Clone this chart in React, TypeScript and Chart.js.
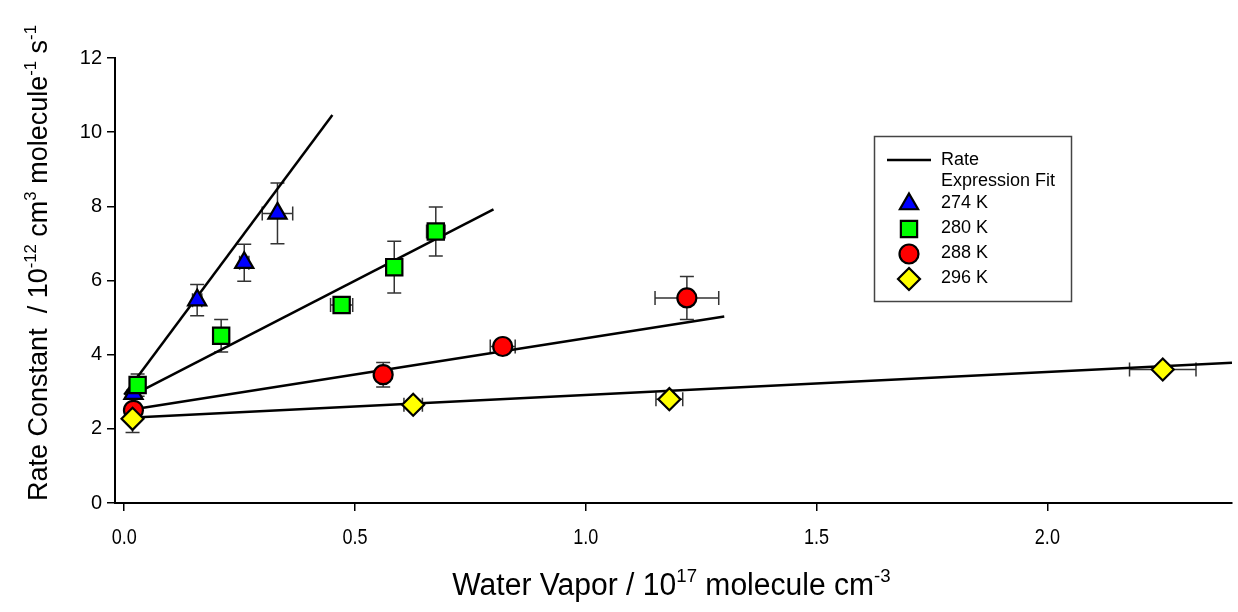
import React, { useEffect, useRef } from "react";
import { Chart, registerables } from "chart.js";

Chart.register(...registerables);

// ---------- axes ----------
const xMin = -0.02;
const xMax = 2.4;
const yMin = 0;
const yMax = 12;
const xTickValues = [0, 0.5, 1.0, 1.5, 2.0];
const xTickLabels = ["0.0", "0.5", "1.0", "1.5", "2.0"];
const yTickValues = [0, 2, 4, 6, 8, 10, 12];

// ---------- series ----------
const seriesNames = ["274 K", "280 K", "288 K", "296 K"];
const fitLegendLines = ["Rate", "Expression Fit"];

const x274 = [0.02, 0.158, 0.26, 0.332];
const y274 = [2.95, 5.47, 6.48, 7.81];
const ex274 = [0.0, 0.01, 0.01, 0.033];
const ey274 = [0.1, 0.42, 0.5, 0.82];

const x280 = [0.029, 0.21, 0.471, 0.585, 0.675];
const y280 = [3.18, 4.51, 5.34, 6.36, 7.32];
const ex280 = [0.0, 0.0, 0.024, 0.0, 0.02];
const ey280 = [0.3, 0.44, 0.12, 0.7, 0.66];

const x288 = [0.02, 0.561, 0.82, 1.219];
const y288 = [2.5, 3.46, 4.22, 5.53];
const ex288 = [0.0, 0.0, 0.027, 0.069];
const ey288 = [0.1, 0.33, 0.1, 0.58];

const x296 = [0.018, 0.626, 1.181, 2.25];
const y296 = [2.27, 2.65, 2.8, 3.6];
const ex296 = [0.0, 0.02, 0.029, 0.072];
const ey296 = [0.37, 0.12, 0.1, 0.05];

// fit lines (endpoints)
const fitX274 = [0.0, 0.451];
const fitY274 = [2.92, 10.46];
const fitX280 = [0.005, 0.8];
const fitY280 = [2.82, 7.92];
const fitX288 = [0.0, 1.3];
const fitY288 = [2.49, 5.03];
const fitX296 = [0.0, 2.4];
const fitY296 = [2.29, 3.78];

const FONT = "'Liberation Sans', Arial, 'DejaVu Sans', sans-serif";

type Seg = { t: string; sup?: boolean };

function segWidths(ctx: CanvasRenderingContext2D, segs: Seg[], size: number) {
  let w = 0;
  for (const s of segs) {
    ctx.font = `${s.sup ? size * 0.62 : size}px ${FONT}`;
    w += ctx.measureText(s.t).width;
  }
  return w;
}

function drawRich(ctx: CanvasRenderingContext2D, segs: Seg[], x: number, y: number, size: number) {
  let cx = x;
  ctx.textBaseline = "alphabetic";
  ctx.textAlign = "left";
  for (const s of segs) {
    const fs = s.sup ? size * 0.62 : size;
    ctx.font = `${fs}px ${FONT}`;
    ctx.fillText(s.t, cx, s.sup ? y - size * 0.42 : y);
    cx += ctx.measureText(s.t).width;
  }
}

const xTitle: Seg[] = [
  { t: "Water Vapor / 10" },
  { t: "17", sup: true },
  { t: " molecule cm" },
  { t: "-3", sup: true },
];
const yTitle: Seg[] = [
  { t: "Rate Constant  / 10" },
  { t: "-12", sup: true },
  { t: " cm" },
  { t: "3", sup: true },
  { t: " molecule" },
  { t: "-1", sup: true },
  { t: " s" },
  { t: "-1", sup: true },
];

const colors = ["#0000ff", "#00ff00", "#ff0000", "#ffff00"];
const styles = ["triangle", "rect", "circle", "rectRot"];
const radii = [10.5, 11.5, 9.5, 11];
const drawOrder = [4, 3, 2, 1];

function drawMarker(ctx: CanvasRenderingContext2D, style: string, x: number, y: number, r: number, fill: string) {
  ctx.save();
  ctx.beginPath();
  if (style === "triangle") {
    ctx.moveTo(x, y - r);
    ctx.lineTo(x + 0.866 * r, y + 0.5 * r);
    ctx.lineTo(x - 0.866 * r, y + 0.5 * r);
    ctx.closePath();
  } else if (style === "rect") {
    const s = r * Math.SQRT1_2;
    ctx.rect(x - s, y - s, 2 * s, 2 * s);
  } else if (style === "circle") {
    ctx.arc(x, y, r, 0, Math.PI * 2);
  } else {
    ctx.moveTo(x, y - r);
    ctx.lineTo(x + r, y);
    ctx.lineTo(x, y + r);
    ctx.lineTo(x - r, y);
    ctx.closePath();
  }
  ctx.fillStyle = fill;
  ctx.fill();
  ctx.lineWidth = 2.2;
  ctx.strokeStyle = "#000";
  ctx.stroke();
  ctx.restore();
}

const errorBars = {
  id: "errorBars",
  beforeDatasetsDraw(chart: any) {
    const ctx: CanvasRenderingContext2D = chart.ctx;
    const xs = chart.scales.x;
    const ys = chart.scales.y;
    ctx.save();
    ctx.strokeStyle = "#333";
    ctx.lineWidth = 1.5;
    chart.data.datasets.forEach((ds: any) => {
      if (!ds.errX) return;
      ds.data.forEach((p: any, i: number) => {
        const px = xs.getPixelForValue(p.x);
        const py = ys.getPixelForValue(p.y);
        const ey = ds.errY[i];
        const ex = ds.errX[i];
        const cap = 7;
        if (ey > 0) {
          const t = ys.getPixelForValue(p.y + ey);
          const b = ys.getPixelForValue(p.y - ey);
          ctx.beginPath();
          ctx.moveTo(px, t);
          ctx.lineTo(px, b);
          ctx.moveTo(px - cap, t);
          ctx.lineTo(px + cap, t);
          ctx.moveTo(px - cap, b);
          ctx.lineTo(px + cap, b);
          ctx.stroke();
        }
        if (ex > 0) {
          const l = xs.getPixelForValue(p.x - ex);
          const r = xs.getPixelForValue(p.x + ex);
          ctx.beginPath();
          ctx.moveTo(l, py);
          ctx.lineTo(r, py);
          ctx.moveTo(l, py - cap);
          ctx.lineTo(l, py + cap);
          ctx.moveTo(r, py - cap);
          ctx.lineTo(r, py + cap);
          ctx.stroke();
        }
      });
    });
    ctx.restore();
  },
};

const texts = {
  id: "texts",
  afterDraw(chart: any) {
    const ctx: CanvasRenderingContext2D = chart.ctx;
    const xs = chart.scales.x;
    const area = chart.chartArea;
    ctx.save();
    ctx.fillStyle = "#000";

    // x tick labels (narrow)
    xTickValues.forEach((v, i) => {
      const px = xs.getPixelForValue(v);
      ctx.save();
      ctx.translate(px, 538);
      ctx.scale(0.82, 1);
      ctx.font = `22px ${FONT}`;
      ctx.textAlign = "center";
      ctx.textBaseline = "middle";
      ctx.fillText(xTickLabels[i], 0, 0);
      ctx.restore();
    });

    // x title (narrow)
    {
      const size = 31;
      const sx = 0.97;
      const w = segWidths(ctx, xTitle, size);
      const cx = (area.left + area.right) / 2 - 2;
      ctx.save();
      ctx.translate(cx, 595);
      ctx.scale(sx, 1);
      drawRich(ctx, xTitle, -w / 2, 0, size);
      ctx.restore();
    }

    // y title
    {
      const size = 27;
      const w = segWidths(ctx, yTitle, size);
      ctx.save();
      ctx.translate(47, 263);
      ctx.rotate(-Math.PI / 2);
      drawRich(ctx, yTitle, -w / 2, 0, size);
      ctx.restore();
    }

    // legend
    ctx.save();
    ctx.strokeStyle = "#444";
    ctx.lineWidth = 1.5;
    ctx.strokeRect(874.5, 136.5, 197, 165);
    ctx.strokeStyle = "#000";
    ctx.lineWidth = 2.5;
    ctx.beginPath();
    ctx.moveTo(887, 160);
    ctx.lineTo(931, 160);
    ctx.stroke();
    ctx.font = `18px ${FONT}`;
    ctx.textAlign = "left";
    ctx.textBaseline = "middle";
    ctx.fillStyle = "#000";
    ctx.fillText(fitLegendLines[0], 941, 160);
    ctx.fillText(fitLegendLines[1], 941, 181);
    const rows = [204, 229, 254, 279];
    seriesNames.forEach((n, i) => {
      drawMarker(ctx, styles[i], 909, rows[i], radii[i], colors[i]);
      ctx.fillStyle = "#000";
      ctx.fillText(n, 941, rows[i] - 1);
    });
    ctx.restore();

    ctx.restore();
  },
};

function pts(xs: number[], ys: number[]) {
  return xs.map((x, i) => ({ x, y: ys[i] }));
}

export default function App() {
  const ref = useRef<HTMLCanvasElement | null>(null);
  useEffect(() => {
    if (!ref.current) return;
    const fitDs = (xs: number[], ys: number[]) => ({
      type: "line" as const,
      data: pts(xs, ys),
      showLine: true,
      borderColor: "#000",
      borderWidth: 2.5,
      pointRadius: 0,
      fill: false,
      order: 10,
    });
    const scatterDs = (i: number, xs: number[], ys: number[], ex: number[], ey: number[]) => ({
      type: "scatter" as const,
      label: seriesNames[i],
      data: pts(xs, ys),
      pointStyle: styles[i],
      pointRadius: radii[i],
      pointHoverRadius: radii[i],
      backgroundColor: colors[i],
      borderColor: "#000",
      borderWidth: 2.2,
      errX: ex,
      errY: ey,
      order: drawOrder[i],
    });
    const chart = new Chart(ref.current, {
      type: "scatter",
      data: {
        datasets: [
          fitDs(fitX274, fitY274),
          fitDs(fitX280, fitY280),
          fitDs(fitX288, fitY288),
          fitDs(fitX296, fitY296),
          scatterDs(0, x274, y274, ex274, ey274),
          scatterDs(1, x280, y280, ex280, ey280),
          scatterDs(2, x288, y288, ex288, ey288),
          scatterDs(3, x296, y296, ex296, ey296),
        ] as any,
      },
      options: {
        animation: false,
        responsive: true,
        maintainAspectRatio: false,
        layout: { autoPadding: false, padding: { top: 58, right: 6, left: 0, bottom: 0 } },
        plugins: {
          legend: { display: false },
          tooltip: { enabled: false },
          title: { display: false },
        },
        scales: {
          x: {
            type: "linear",
            min: xMin,
            max: xMax,
            afterBuildTicks: (s: any) => {
              s.ticks = xTickValues.map((v) => ({ value: v }));
            },
            afterFit: (s: any) => {
              s.height = 109;
            },
            ticks: { display: false },
            grid: { drawOnChartArea: false, drawTicks: true, tickLength: 8, color: "#000", lineWidth: 1.5 },
            border: { display: true, color: "#000", width: 2 },
          },
          y: {
            type: "linear",
            min: yMin,
            max: yMax,
            afterBuildTicks: (s: any) => {
              s.ticks = yTickValues.map((v) => ({ value: v }));
            },
            afterFit: (s: any) => {
              s.width = 115;
            },
            ticks: {
              color: "#000",
              padding: 5,
              font: { size: 20, family: FONT },
              callback: (v: any) => String(v),
            },
            grid: { drawOnChartArea: false, drawTicks: true, tickLength: 8, color: "#000", lineWidth: 1.5 },
            border: { display: true, color: "#000", width: 2 },
          },
        },
      } as any,
      plugins: [errorBars, texts],
    });
    return () => chart.destroy();
  }, []);
  return (
    <div style={{ position: "fixed", left: 0, top: 0, width: 1238, height: 612, background: "#fff" }}>
      <canvas ref={ref} />
    </div>
  );
}
